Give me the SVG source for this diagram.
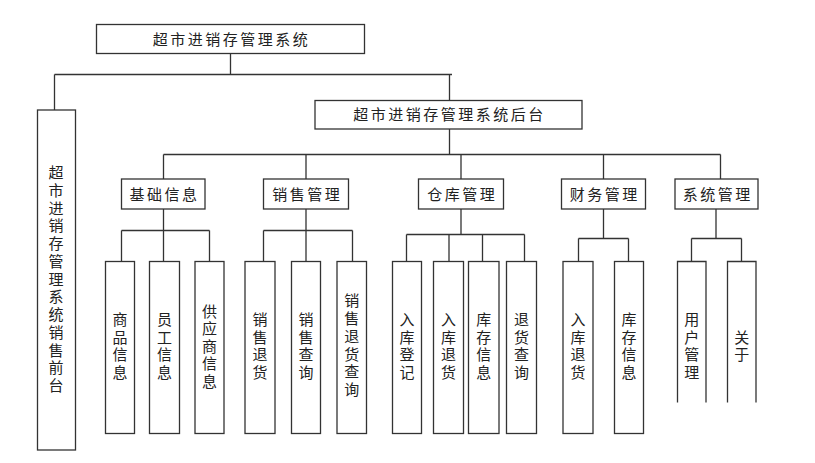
<svg xmlns="http://www.w3.org/2000/svg" width="815" height="463" viewBox="0 0 815 463">
<style>
.b{fill:#fff;stroke:#333;stroke-width:1.3}
.o{fill:none;stroke:#333;stroke-width:1.3}
.c{fill:none;stroke:#333;stroke-width:1.3}
.t{font-family:"Noto Sans CJK SC","Noto Sans",sans-serif;font-size:15px;fill:#222;text-anchor:middle}
.h{letter-spacing:2.5px}
.v{writing-mode:vertical-rl;text-orientation:upright;letter-spacing:2.5px}
</style>
<rect width="815" height="463" fill="#fff"/>
<g id="connectors" class="c">
<path d="M230.5 53.5V74.5M54.5 74.5H452M54.5 74.5V110M449.5 74.5V100.5M449.5 129V154.5M163.5 154.5H720.5M163.5 154.5V179M306 154.5V179M461 154.5V179M603.5 154.5V179M720.5 154.5V179"/>
<path d="M163.5 209V261.5M121.5 230.5H209.5M121.5 230.5V261.5M209.5 230.5V261.5"/>
<path d="M306 209V261.5M263.5 230.5H352.5M263.5 230.5V261.5M352.5 230.5V261.5"/>
<path d="M461 209V234.5M406.5 234.5H524.5M406.5 234.5V261.5M449 234.5V263M482.5 234.5V261.5M524.5 234.5V261.5"/>
<path d="M603.5 209V238.5M578.5 238.5H628.5M578.5 238.5V261.5M628.5 238.5V261.5"/>
<path d="M716 209V238.5M691.5 238.5H741.5M691.5 238.5V261.5M741.5 238.5V261.5"/>
</g>
<g id="root"><rect class="b" x="96.5" y="24.5" width="268" height="29"/><text class="t h" x="231.5" y="44.5">超市进销存管理系统</text></g>
<g id="frontend"><rect class="b" x="37.5" y="110" width="38" height="340"/><text class="t v" x="56" y="280.4" style="letter-spacing:2.75px">超市进销存管理系统销售前台</text></g>
<g id="backend"><rect class="b" x="315" y="100.5" width="267" height="28.5"/><text class="t h" x="449.5" y="120">超市进销存管理系统后台</text></g>
<g id="jichu"><rect class="b" x="121.5" y="179" width="83.5" height="30"/><text class="t h" x="164.5" y="199.5">基础信息</text></g>
<g id="xiaoshou"><rect class="b" x="263.5" y="179" width="85" height="30"/><text class="t h" x="307.2" y="199.5">销售管理</text></g>
<g id="cangku"><rect class="b" x="418.5" y="179" width="85" height="30"/><text class="t h" x="462.2" y="199.5">仓库管理</text></g>
<g id="caiwu"><rect class="b" x="561.5" y="179" width="84" height="30"/><text class="t h" x="604.8" y="199.5">财务管理</text></g>
<g id="xitong"><rect class="b" x="675" y="179" width="83" height="30"/><text class="t h" x="717.8" y="199.5">系统管理</text></g>
<g id="leaf1"><rect class="b" x="105.5" y="261.5" width="29" height="172"/><text class="t v" x="120" y="347.25">商品信息</text></g>
<g id="leaf2"><rect class="b" x="149.5" y="261.5" width="30" height="172"/><text class="t v" x="164.5" y="347.25">员工信息</text></g>
<g id="leaf3"><rect class="b" x="195" y="261.5" width="29" height="172"/><text class="t v" x="209.5" y="347.25">供应商信息</text></g>
<g id="leaf4"><rect class="b" x="245" y="261.5" width="30" height="172"/><text class="t v" x="260" y="347.25">销售退货</text></g>
<g id="leaf5"><rect class="b" x="291.5" y="261.5" width="29" height="172"/><text class="t v" x="306" y="347.25">销售查询</text></g>
<g id="leaf6"><rect class="b" x="337" y="261.5" width="29.5" height="172"/><text class="t v" x="351.8" y="346.5" style="letter-spacing:2.8px">销售退货查询</text></g>
<g id="leaf7"><rect class="b" x="392.5" y="261.5" width="29" height="172"/><text class="t v" x="407" y="347.25">入库登记</text></g>
<g id="leaf8"><rect class="b" x="433.5" y="261.5" width="30" height="172"/><text class="t v" x="448.5" y="347.25">入库退货</text></g>
<g id="leaf9"><rect class="b" x="468.5" y="261.5" width="30.5" height="172"/><text class="t v" x="483.7" y="347.25">库存信息</text></g>
<g id="leaf10"><rect class="b" x="506.5" y="261.5" width="30" height="172"/><text class="t v" x="521.5" y="347.25">退货查询</text></g>
<g id="leaf11"><rect class="b" x="563" y="261.5" width="30" height="172"/><text class="t v" x="578" y="347.25">入库退货</text></g>
<g id="leaf12"><rect class="b" x="614.5" y="261.5" width="29" height="172"/><text class="t v" x="629" y="347.25">库存信息</text></g>
<g id="leaf13"><path class="o" d="M677.5 402.5V261.5H706V402.5"/><text class="t v" x="691.7" y="347.25">用户管理</text></g>
<g id="leaf14"><path class="o" d="M727.5 402.5V261.5H756V402.5"/><text class="t v" x="741.7" y="347.25">关于</text></g>
</svg>
